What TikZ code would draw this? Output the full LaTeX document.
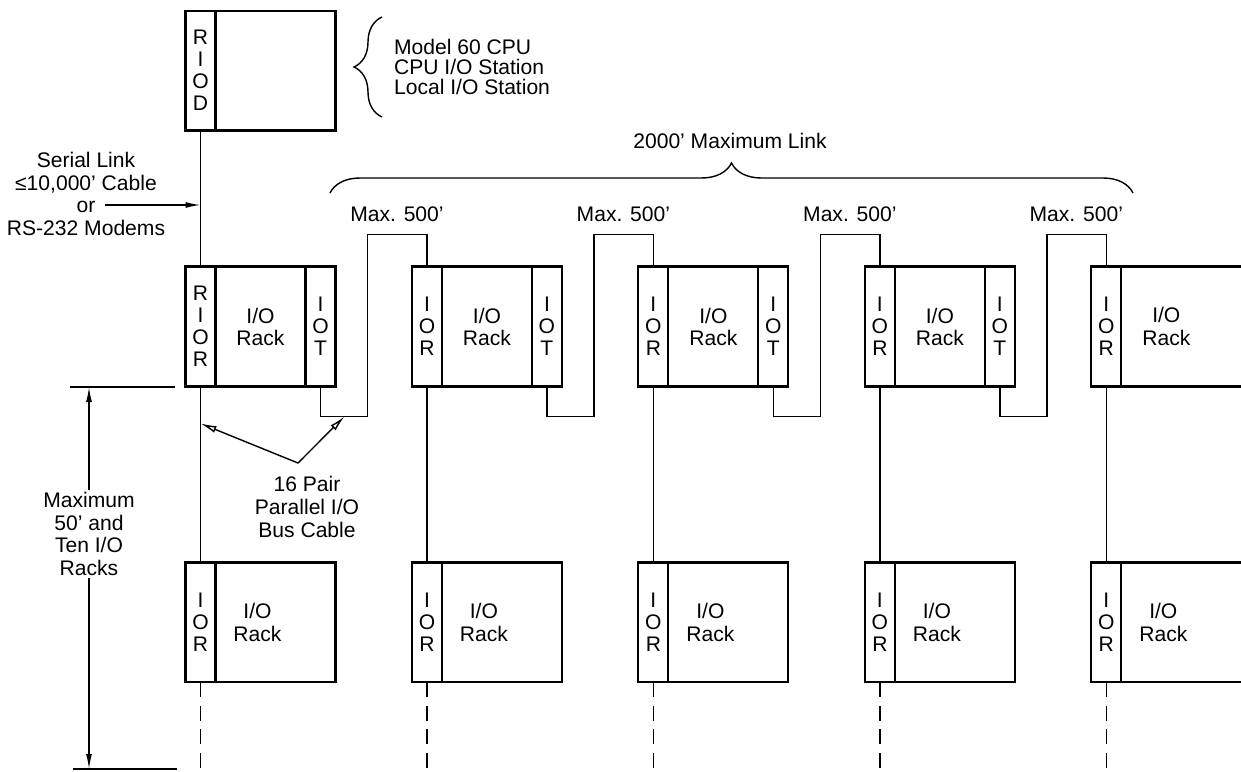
\documentclass[tikz,border=0pt]{standalone}
\usepackage{fontspec}
\setmainfont{Liberation Sans}
\usetikzlibrary{arrows.meta,calc,positioning,decorations.pathreplacing}

\begin{document}
\begin{tikzpicture}[x=0.02cm,y=-0.02cm,
    lbl/.style={font=\fontsize{12}{12.9}\selectfont,align=center,inner sep=1pt},
    strip/.style={draw,line width=1.2pt,minimum width=0.6cm,minimum height=2.4cm,
                  inner sep=0pt,outer sep=0pt,align=center,
                  font=\fontsize{12}{12.5}\selectfont},
    body/.style={strip,minimum width=1.8cm},
    wire/.style={line width=0.8pt},
    dashwire/.style={wire,dash pattern=on 0.3cm off 0.17cm},
    arr/.style={wire,-{Latex[length=3mm,width=1.2mm]}},
    oarr/.style={wire,-{Latex[open,length=3.2mm,width=1.4mm]}},
    brc/.style={wire,decorate,decoration={brace,amplitude=#1}}
  ]
    \useasboundingbox (0,0) rectangle (1241,771);
    \clip (0,0) rectangle (1241,771);
    % upper row: remote rack, then the IOT -> IOR chain
    \node[strip] (rior) at (200.5,326.5) {R\\I\\O\\R};
    \node[body,right=0pt of rior] (body1) {I/O\\Rack};
    \node[strip,right=0pt of body1] (iot1) {I\\O\\T};
    \node[strip,right=1.53cm of iot1] (ior2) {I\\O\\R};
    \node[body,right=0pt of ior2] (body2) {I/O\\Rack};
    \node[strip,right=0pt of body2] (iot2) {I\\O\\T};
    \node[strip,right=1.53cm of iot2] (ior3) {I\\O\\R};
    \node[body,right=0pt of ior3] (body3) {I/O\\Rack};
    \node[strip,right=0pt of body3] (iot3) {I\\O\\T};
    \node[strip,right=1.53cm of iot3] (ior4) {I\\O\\R};
    \node[body,right=0pt of ior4] (body4) {I/O\\Rack};
    \node[strip,right=0pt of body4] (iot4) {I\\O\\T};
    \node[strip,right=1.53cm of iot4] (ior5) {I\\O\\R};
    \node[body,right=0pt of ior5,minimum width=4cm] (body5) {};
    \node[lbl] (txt5) at ($(ior5.east)+(45,0)$) {I/O\\Rack};
    % CPU on top
    \node[strip,above=2.72cm of rior] (riod) {R\\I\\O\\D};
    \node[body,right=0pt of riod,minimum width=2.4cm] (cpubox) {};
    % lower row
    \node[strip,below=3.52cm of rior] (lior1) {I\\O\\R};
    \node[body,right=0pt of lior1,minimum width=2.4cm] (lbody1) {};
    \node[strip,below=3.52cm of ior2] (lior2) {I\\O\\R};
    \node[body,right=0pt of lior2,minimum width=2.4cm] (lbody2) {};
    \node[strip,below=3.52cm of ior3] (lior3) {I\\O\\R};
    \node[body,right=0pt of lior3,minimum width=2.4cm] (lbody3) {};
    \node[strip,below=3.52cm of ior4] (lior4) {I\\O\\R};
    \node[body,right=0pt of lior4,minimum width=2.4cm] (lbody4) {};
    \node[strip,below=3.52cm of ior5] (lior5) {I\\O\\R};
    \node[body,right=0pt of lior5,minimum width=4cm] (lbody5) {};
    \node[lbl] (ltxt1) at ($(lbody1.center)+(-18,0)$) {I/O\\Rack};
    \node[lbl] (ltxt2) at ($(lbody2.center)+(-18,0)$) {I/O\\Rack};
    \node[lbl] (ltxt3) at ($(lbody3.center)+(-18,0)$) {I/O\\Rack};
    \node[lbl] (ltxt4) at ($(lbody4.center)+(-18,0)$) {I/O\\Rack};
    \node[lbl] (ltxt5) at ($(lior5.east)+(42,0)$) {I/O\\Rack};

    \draw[wire] (riod.south) -- (rior.north);
    \draw[wire] (iot1.south) -- ++(0,30) coordinate (lo1) -- ++(47,0)
      |- ($(ior2.north)+(0,-32)$) coordinate (hi2) -- (ior2.north);
    \draw[wire] (iot2.south) -- ++(0,30) -- ++(47,0)
      |- ($(ior3.north)+(0,-32)$) coordinate (hi3) -- (ior3.north);
    \draw[wire] (iot3.south) -- ++(0,30) -- ++(47,0)
      |- ($(ior4.north)+(0,-32)$) coordinate (hi4) -- (ior4.north);
    \draw[wire] (iot4.south) -- ++(0,30) -- ++(47,0)
      |- ($(ior5.north)+(0,-32)$) coordinate (hi5) -- (ior5.north);
    \node[lbl,above=6pt] (max2) at ($(hi2)+(-30,0)$) {Max. 500'};
    \node[lbl,above=6pt] (max3) at ($(hi3)+(-30,0)$) {Max. 500'};
    \node[lbl,above=6pt] (max4) at ($(hi4)+(-30,0)$) {Max. 500'};
    \node[lbl,above=6pt] (max5) at ($(hi5)+(-30,0)$) {Max. 500'};

    \draw[wire] (rior.south) -- (lior1.north);
    \draw[wire] (ior2.south) -- (lior2.north);
    \draw[wire] (ior3.south) -- (lior3.north);
    \draw[wire] (ior4.south) -- (lior4.north);
    \draw[wire] (ior5.south) -- (lior5.north);
    \draw[dashwire] (lior1.south) -- ++(0,88);
    \draw[dashwire] (lior2.south) -- ++(0,88);
    \draw[dashwire] (lior3.south) -- ++(0,88);
    \draw[dashwire] (lior4.south) -- ++(0,88);
    \draw[dashwire] (lior5.south) -- ++(0,88);

    % braces and notes
    \draw[brc=0.56cm] (382,117) -- (382,17);
    \node[lbl,align=left,anchor=west,font=\fontsize{12}{11.4}\selectfont] (cpu) at (392,67)
      {Model 60 CPU\\CPU I/O Station\\Local I/O Station};
    \draw[brc=0.6cm] (330,193) -- (1133,193);
    \node[lbl] (link) at (730,141) {2000' Maximum Link};

    \node[lbl] (serial) at (86,194) {Serial Link\\≤10,000' Cable\\or\\RS-232 Modems};
    \coordinate (sin) at ($(serial.center)+(19,11)$);
    \draw[arr] (sin) -- (sin -| rior.north);

    \node[lbl] (bus) at (307,507) {16 Pair\\Parallel I/O\\Bus Cable};
    \coordinate (apex) at (298,463);
    \draw[oarr] (apex) -- ($(rior.south)!0.21!(lior1.north)$);
    \draw[oarr] (apex) -- ($(lo1)+(24,0)$);

    % rack-count dimension
    \node[lbl] (dim) at (89,534) {Maximum\\50' and\\Ten I/O\\Racks};
    \coordinate (dimtop) at (89,387);
    \coordinate (dimbot) at (89,769);
    \draw[wire] ($(dimtop)+(-19,0)$) -- ++(105,0);
    \draw[wire] ($(dimbot)+(-16,0)$) -- ++(104,0);
    \draw[arr] (dim.north) -- (dimtop);
    \draw[arr] (dim.south) -- (dimbot);
\end{tikzpicture}
\end{document}
